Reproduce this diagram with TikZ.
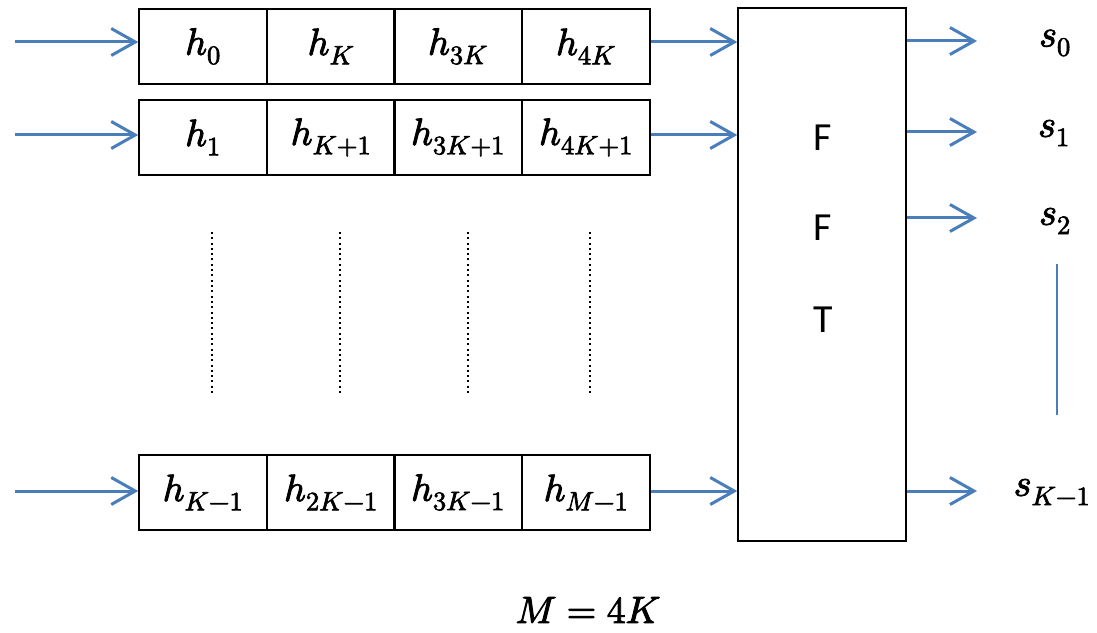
\documentclass[tikz,border=0pt]{standalone}
\usepackage{fontspec}
\usepackage{unicode-math}
\setmathfont{Latin Modern Math}[FakeBold=2.5]
\setsansfont{Carlito}
\usetikzlibrary{arrows.meta}
\definecolor{flowblue}{RGB}{74,126,187}
\tikzset{
  cell/.style={draw=black, line width=1.4bp, minimum width=128bp, minimum height=75bp,
    inner sep=0pt, font=\fontsize{38}{44}\selectfont},
  fftbox/.style={draw=black, line width=1.4bp, minimum width=168bp, minimum height=533bp, inner sep=0pt},
  fftletter/.style={font=\sffamily\fontsize{40}{44}\selectfont, inner sep=0pt},
  flow/.style={draw=flowblue, line width=3bp,
    -{Straight Barb[length=24bp, width=27bp, line width=3bp]}},
  outlabel/.style={font=\fontsize{38}{44}\selectfont, inner sep=0pt},
  vdots/.style={line width=2bp, dash pattern=on 2bp off 3.3bp},
}
\begin{document}
\begin{tikzpicture}[x=1bp, y=-1bp]
\useasboundingbox (0,0) rectangle (1097,633);

% delay-line rows of coefficients
\node[cell] (a0) at (203,46.5) {$h_0$};
\node[cell] (a1) at (331,46.5) {$h_K$};
\node[cell] (a2) at (458,46.5) {$h_{3K}$};
\node[cell] (a3) at (586,46.5) {$h_{4K}$};

\node[cell] (b0) at (203,137.5) {$h_1$};
\node[cell] (b1) at (331,137.5) {$h_{K+1}$};
\node[cell] (b2) at (458,137.5) {$h_{3K+1}$};
\node[cell] (b3) at (586,137.5) {$h_{4K+1}$};

\node[cell] (c0) at (203,492.5) {$h_{K-1}$};
\node[cell] (c1) at (331,492.5) {$h_{2K-1}$};
\node[cell] (c2) at (458,492.5) {$h_{3K-1}$};
\node[cell] (c3) at (586,492.5) {$h_{M-1}$};

% FFT block
\node[fftbox] (fft) at (822,274.5) {};
\node[fftletter] (f1) at (823,138) {F};
\node[fftletter] (f2) at (823,228) {F};
\node[fftletter] (f3) at (823,320) {T};

% inputs
\coordinate (in0) at (15,42);
\coordinate (in1) at (15,135);
\coordinate (in2) at (15,491);
\draw[flow] (in0) -- (in0 -| a0.west);
\draw[flow] (in1) -- (in1 -| b0.west);
\draw[flow] (in2) -- (in2 -| c0.west);

% rows into the FFT
\draw[flow] (a3.east |- in0) -- (fft.west |- in0);
\draw[flow] (b3.east |- in1) -- (fft.west |- in1);
\draw[flow] (c3.east |- in2) -- (fft.west |- in2);

% outputs
\coordinate (o0) at (977,41);
\coordinate (o1) at (977,132);
\coordinate (o2) at (977,218);
\coordinate (o3) at (977,491);
\draw[flow] (fft.east |- o0) -- (o0);
\draw[flow] (fft.east |- o1) -- (o1);
\draw[flow] (fft.east |- o2) -- (o2);
\draw[flow] (fft.east |- o3) -- (o3);
\node[outlabel] (s0) at (1055,43) {$s_0$};
\node[outlabel] (s1) at (1054,133) {$s_1$};
\node[outlabel] (s2) at (1055,221) {$s_2$};
\node[outlabel] (s3) at (1052,492) {$s_{K-1}$};

% continuation marks
\coordinate (v0) at (1057,264);
\coordinate (v1) at (1057,415);
\draw[draw=flowblue, line width=2.5bp] (v0) -- (v1);
\foreach \x in {212,340,468,590}
  \draw[vdots] (\x,232) -- (\x,393);

% relation
\node[outlabel] (rel) at (588,610) {$M = 4K$};
\end{tikzpicture}
\end{document}
